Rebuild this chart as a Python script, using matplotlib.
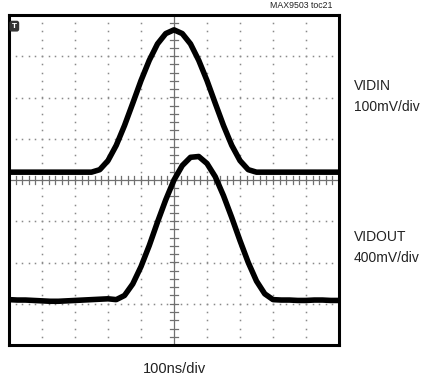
import numpy as np
import matplotlib.pyplot as plt

# time axis, ns (100 ns/div)
t_ns = np.arange(-500, 501, 25)

# input pulse, mV (100 mV/div)
vidin_mv = [19, 19, 19, 19, 19, 19, 19, 19, 19, 19, 19,
            25, 47, 84, 132, 186, 241, 290, 330, 355, 364,
            355, 330, 290, 241, 186, 132, 84, 47, 25, 19,
            19, 19, 19, 19, 19, 19, 19, 19, 19, 19]

# output pulse, mV (400 mV/div)
vidout_mv = [-1160, -1164, -1164, -1168, -1172, -1176, -1176, -1172, -1168, -1164, -1160,
             -1156, -1152, -1160, -1120, -1008, -840, -636, -408, -192, 0,
             140, 220, 228, 160, 32, -152, -364, -588, -800, -980,
             -1104, -1160, -1164, -1164, -1168, -1168, -1164, -1164, -1168, -1168]

t_div = 100.0
vidin_div = 100.0
vidout_div = 400.0

W, H = 422, 378
fig = plt.figure(figsize=(W / 100, H / 100), dpi=100)
ax = fig.add_axes([9 / W, 1 - 345 / H, 330 / W, 330 / H])
ax.set_xlim(-5, 5)
ax.set_ylim(-4, 4)
ax.set_xticks([])
ax.set_yticks([])
for s in ax.spines.values():
    s.set_linewidth(2.2)
    s.set_color('black')

# graticule: dotted division lines
grid_c = '#8a8a8a'
for gy in range(-3, 4):
    if gy == 0:
        continue
    xs = np.arange(-5, 5.001, 0.2)
    ax.plot(xs, np.full_like(xs, gy), ls='none', marker='s', ms=1.1, color=grid_c, mew=0)
for gx in range(-4, 5):
    if gx == 0:
        continue
    ys = np.arange(-4, 4.001, 0.2)
    ax.plot(np.full_like(ys, gx), ys, ls='none', marker='s', ms=1.1, color=grid_c, mew=0)

# center crosshair with minor ticks
ax.axhline(0, color='#707070', lw=0.9)
ax.axvline(0, color='#707070', lw=0.9)
for x in np.arange(-5, 5.001, 0.2):
    ax.plot([x, x], [-0.09, 0.09], color='#707070', lw=0.9)
for y in np.arange(-4, 4.001, 0.2):
    ax.plot([-0.11, 0.11], [y, y], color='#707070', lw=0.9)

# traces
x = t_ns / t_div
ax.plot(x, np.array(vidin_mv) / vidin_div, color='black', lw=4.0,
        solid_joinstyle='round', solid_capstyle='butt')
ax.plot(x, np.array(vidout_mv) / vidout_div, color='black', lw=4.0,
        solid_joinstyle='round', solid_capstyle='butt')

# trigger marker
ax.text(-4.84, 3.73, 'T', fontsize=5, color='white', fontweight='bold',
        ha='center', va='center',
        bbox=dict(boxstyle='round,pad=0.25', fc='#333333', ec='#333333'))

fam = ['Liberation Sans Narrow', 'Liberation Sans', 'DejaVu Sans']
tc = '#222222'


def ftext(px, py, s, **kw):
    fig.text(px / W, 1 - py / H, s, family=fam, color=tc, va='baseline', **kw)


ftext(333, 8, 'MAX9503 toc21', fontsize=6.3, ha='right')
ftext(354, 90, 'VIDIN', fontsize=10, ha='left')
ftext(354, 111, '100mV/div', fontsize=10, ha='left')
ftext(354, 241, 'VIDOUT', fontsize=10, ha='left')
ftext(354, 262, '400mV/div', fontsize=10, ha='left')
ftext(174, 373, '100ns/div', fontsize=10.5, ha='center')

fig.savefig('out.png', dpi=100)
